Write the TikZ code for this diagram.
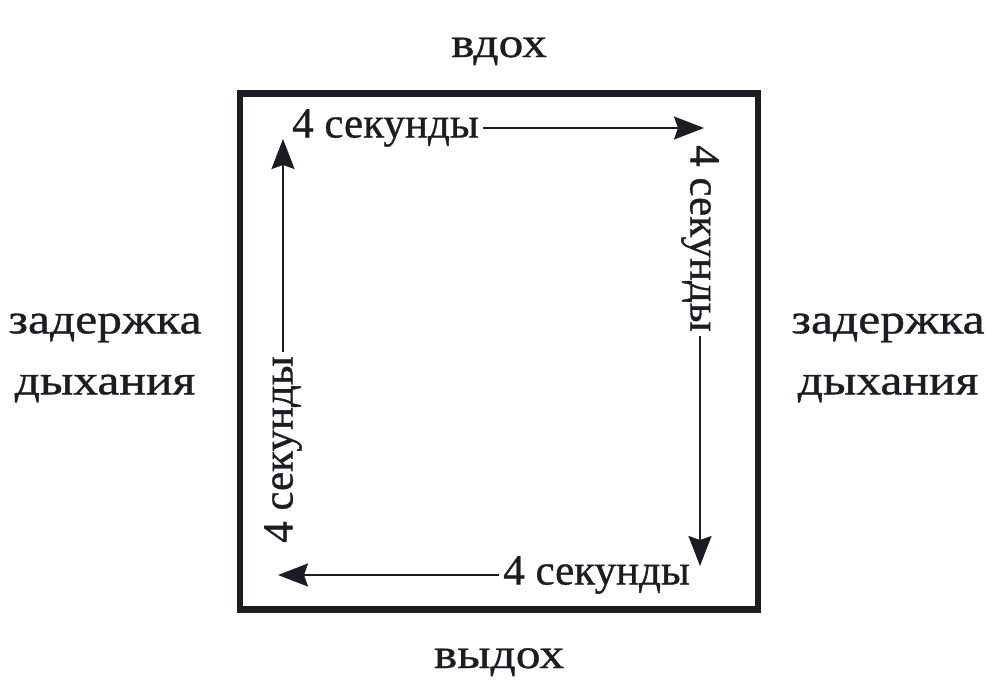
\documentclass[tikz,border=0pt]{standalone}
\usepackage{fontspec}
\setmainfont[FakeBold=0.8]{Liberation Serif}
\newfontfamily\lblfont[FakeStretch=1.18,FakeBold=0.8]{Liberation Serif}
\usetikzlibrary{arrows.meta}
\definecolor{ink}{HTML}{1A1E24}
\begin{document}
\begin{tikzpicture}[x=1pt,y=-1pt,
  lbl/.style={text=ink,font=\lblfont\fontsize{42}{61}\selectfont,inner sep=0pt,align=center},
  sec/.style={text=ink,font=\fontsize{43}{50}\selectfont,inner xsep=4pt,inner ysep=0pt},
  arr/.style={draw=ink,line width=2pt,-{Stealth[length=30pt,width=23pt,inset=4pt]}},
  frame/.style={draw=ink,line width=6.5pt}]
\useasboundingbox (0,0) rectangle (1001,689);
\node[frame,minimum width=518pt,minimum height=516pt,inner sep=0pt] (box) at (499,351.5) {};
\node[lbl,anchor=base] (inh) at (499,57) {вдох};
\node[lbl,anchor=base] (exh) at (499,668) {выдох};
\node[lbl] (holdL) at (105,358) {задержка\\дыхания};
\node[lbl] (holdR) at (888,358) {задержка\\дыхания};
% top
\node[sec,anchor=west] (tT) at (288,128) {4 секунды};
\coordinate (tipT) at (704,128);
\draw[arr] (tT.east) -- (tipT);
% right
\node[sec,rotate=-90,anchor=west] (tR) at (700,141) {4 секунды};
\coordinate (tipR) at (700,566);
\draw[arr] (tR.east) -- (tipR);
% bottom
\node[sec,anchor=east] (tB) at (694,575) {4 секунды};
\coordinate (tipB) at (278,575);
\draw[arr] (tB.west) -- (tipB);
% left
\node[sec,rotate=90,anchor=west] (tL) at (283,547) {4 секунды};
\coordinate (tipL) at (283,139);
\draw[arr] (tL.east) -- (tipL);
\end{tikzpicture}
\end{document}
